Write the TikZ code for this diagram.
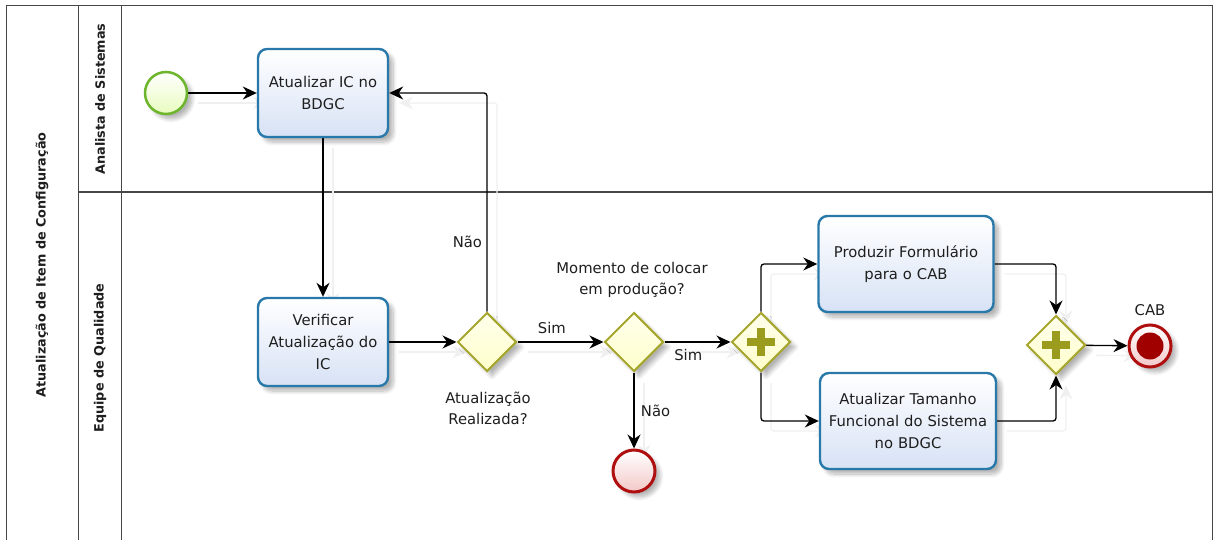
\documentclass[tikz,border=0pt]{standalone}
\usepackage{fontspec}
\setmainfont{DejaVu Sans}
\usetikzlibrary{shapes.geometric,arrows.meta,shadows.blur,backgrounds}

\definecolor{taskedge}{RGB}{40,120,170}
\definecolor{taskfill}{RGB}{215,226,245}
\definecolor{gwedge}{RGB}{166,166,46}
\definecolor{gwtop}{RGB}{255,255,236}
\definecolor{gwfill}{RGB}{255,255,204}
\definecolor{pluscol}{RGB}{155,155,30}
\definecolor{startedge}{RGB}{108,181,45}
\definecolor{startfill}{RGB}{232,252,190}
\definecolor{endedge}{RGB}{175,15,15}
\definecolor{endfill}{RGB}{243,200,200}
\definecolor{termcol}{RGB}{160,0,0}
\definecolor{txt}{RGB}{30,30,30}
\definecolor{poolline}{RGB}{70,70,70}

\tikzset{
  x=1pt, y=-1pt,
  every node/.style={text=txt, font=\fontsize{14.8}{22}\selectfont},
  softshadow/.style={blur shadow={shadow xshift=5pt, shadow yshift=-5pt,
      shadow blur steps=8, shadow blur radius=4pt, shadow opacity=30}},
  task/.style={draw=taskedge, line width=2.4pt, rounded corners=9pt,
      top color=white, bottom color=taskfill, softshadow,
      align=center, inner sep=2pt},
  gateway/.style={diamond, aspect=1, draw=gwedge, line width=2pt,
      top color=gwtop, bottom color=gwfill, softshadow,
      minimum width=59pt, minimum height=59pt, inner sep=0pt},
  parallel/.style={gateway, path picture={
      \fill[pluscol] ([xshift=-14pt,yshift=-4pt]path picture bounding box.center)
        rectangle ([xshift=14pt,yshift=4pt]path picture bounding box.center);
      \fill[pluscol] ([xshift=-4pt,yshift=-14pt]path picture bounding box.center)
        rectangle ([xshift=4pt,yshift=14pt]path picture bounding box.center);}},
  startev/.style={circle, draw=startedge, line width=2.5pt,
      top color=white, bottom color=startfill, softshadow,
      minimum size=42pt, inner sep=0pt},
  endev/.style={circle, draw=endedge, line width=3pt,
      top color=white, bottom color=endfill, softshadow,
      minimum size=42pt, inner sep=0pt},
  termev/.style={endev, path picture={
      \fill[termcol] (path picture bounding box.center) circle (13.5pt);}},
  flow/.style={draw=black, line width=1.3pt, rounded corners=3pt,
      -{Stealth[length=14pt,width=13pt,inset=4.5pt]},
      preaction={draw=black!6, line width=1.3pt,
        transform canvas={shift={(10pt,-10pt)}}}},
  lane/.style={font=\bfseries\fontsize{12.8}{15}\selectfont, rotate=90},
  flowlabel/.style={font=\fontsize{14.8}{21}\selectfont, align=center}
}

\begin{document}
\begin{tikzpicture}
\useasboundingbox (0,0) rectangle (1217,540);
\clip (0,0) rectangle (1217,540);

% activities and events
\node[startev] (start) at (166,93) {};
\node[task, minimum width=130pt, minimum height=88pt, text width=126pt]
  (t1) at (323,93) {Atualizar IC no\\BDGC};
\node[task, minimum width=130pt, minimum height=88pt, text width=126pt]
  (t2) at (323,342) {Verificar\\Atualização do\\IC};
\node[gateway] (g1) at (487,342) {};
\node[gateway] (g2) at (634,342) {};
\node[endev] (endA) at (634,471) {};
\node[parallel] (p1) at (761,342) {};
\node[task, minimum width=175pt, minimum height=96pt, text width=171pt]
  (t3) at (906,264) {Produzir Formulário\\para o CAB};
\node[task, minimum width=176pt, minimum height=96pt, text width=172pt]
  (t4) at (908,421) {Atualizar Tamanho\\Funcional do Sistema\\no BDGC};
\node[parallel] (p2) at (1056,345) {};
\node[termev] (endB) at (1150,346) {};

% captions of gateways and events
\node[flowlabel] (g1cap) at (488,408) {Atualização\\Realizada?};
\node[flowlabel] (g2cap) at (632,280) {Momento de colocar\\em produção?};
\node[flowlabel] (endBcap) at (1150,310) {CAB};

\begin{scope}[on background layer]
  % pool and lanes
  \draw[poolline, line width=1pt] (6,6) rectangle (1212,600);
  \draw[poolline, line width=1pt] (78,6) -- (78,600);
  \draw[poolline, line width=1pt] (121,6) -- (121,600);
  \draw[poolline, line width=1pt] (78,192) -- (1212,192);
  \node[lane] (pool) at (42,265) {Atualização de Item de Configuração};
  \node[lane] (laneA) at (100,99) {Analista de Sistemas};
  \node[lane] (laneB) at (100,358) {Equipe de Qualidade};

  % sequence flows
  \draw[flow] (start) -- (t1);
  \draw[flow] (t1) -- (t2);
  \draw[flow] (t2) -- (g1);
  \draw[flow] (g1.north) |- (t1.east)
    node[flowlabel, pos=0.16, left=1pt] (nao1) {Não};
  \draw[flow] (g1) -- (g2)
    node[flowlabel, pos=0.4, above=4pt] (sim1) {Sim};
  \draw[flow] (g2) -- (p1)
    node[flowlabel, pos=0.36, below=3pt] (sim2) {Sim};
  \draw[flow] (g2) -- (endA)
    node[flowlabel, midway, right=3pt] (nao2) {Não};
  \draw[flow] (p1.north) |- (t3.west);
  \draw[flow] (p1.south) |- (t4.west);
  \draw[flow] (t3.east) -| (p2.north);
  \draw[flow] (t4.east) -| (p2.south);
  \draw[flow] (p2) -- (endB);
\end{scope}
\end{tikzpicture}
\end{document}
